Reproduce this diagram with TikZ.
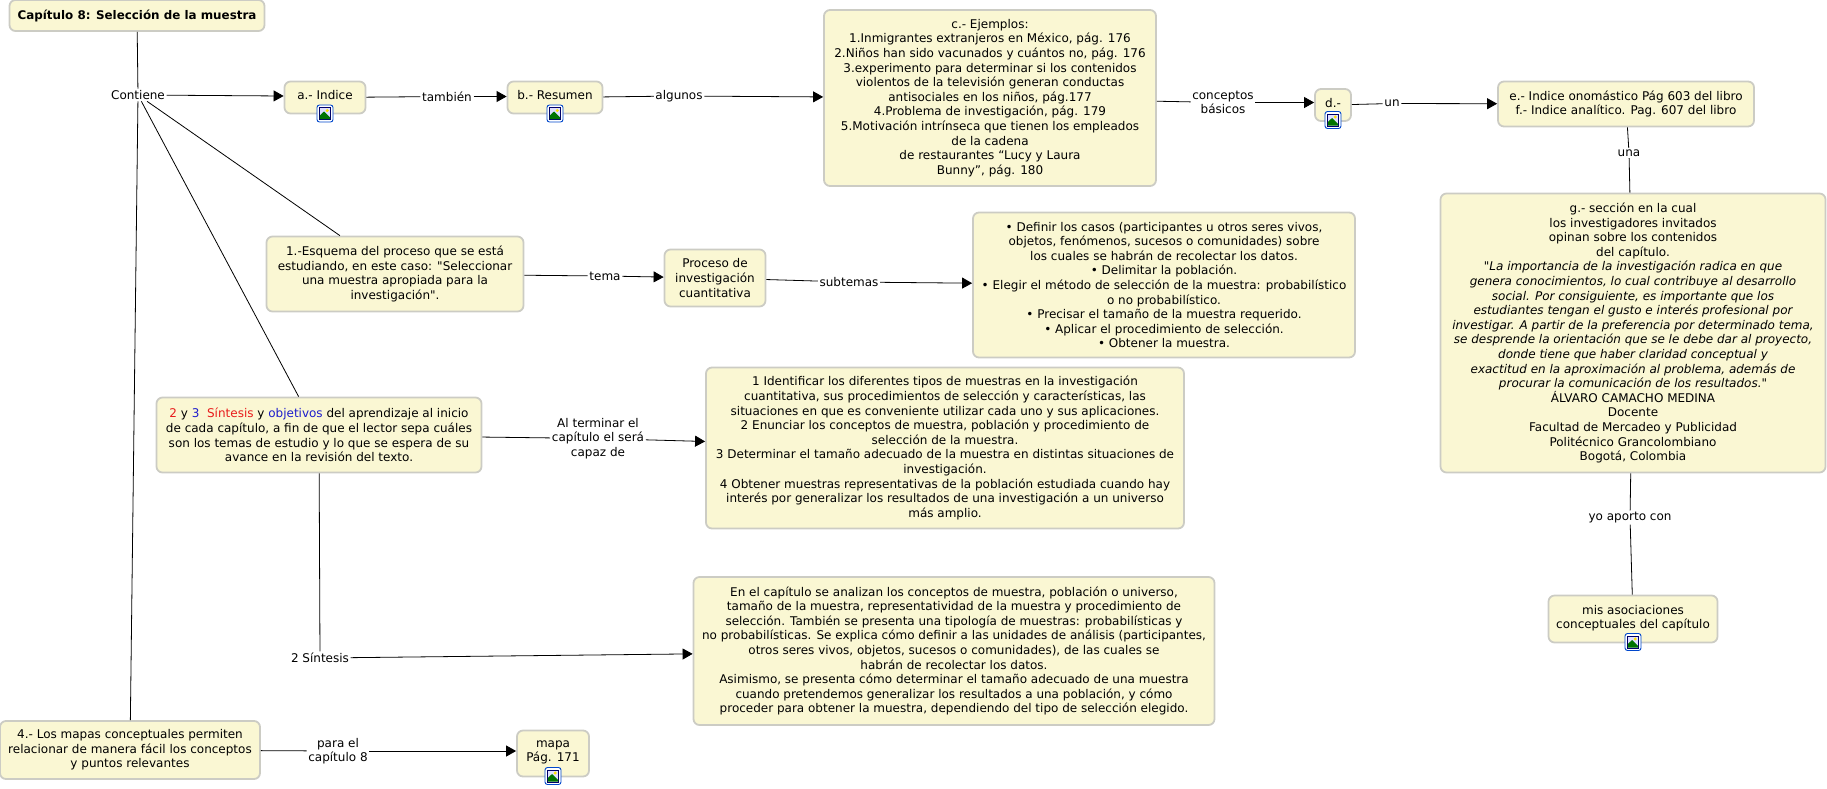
\documentclass[tikz,border=0pt]{standalone}
\usepackage{fontspec}
\usepackage{xcolor}
\usepackage{tikz}
\usetikzlibrary{arrows.meta,positioning,calc}
\setmainfont{DejaVu Sans}[Ligatures=TeXOff]
\definecolor{boxfill}{HTML}{FAF7D3}
\definecolor{boxline}{HTML}{CCCCC4}
\definecolor{redword}{HTML}{E81C1C}
\definecolor{blueword}{HTML}{1C1CCC}
\tikzset{
  concept/.style={draw=boxline, fill=boxfill, line width=1.8pt, rounded corners=6pt, align=center,
    font=\fontsize{12}{14.6}\selectfont, inner sep=0pt},
  linktext/.style={align=center, font=\fontsize{12}{14.6}\selectfont, inner sep=1.5pt},
  plainline/.style={black, line width=0.8pt},
  arrowline/.style={plainline, -{Triangle[length=10pt,width=11pt]}},
  pics/imgicon/.style={code={
    \draw[blue!65!cyan!80!black, fill=white, line width=0.9pt, rounded corners=2.5pt] (-8,-8.5) rectangle (8,8.5);
    \draw[blue!40!black, fill=blue!12, line width=0.8pt] (-5.5,-6) rectangle (5.5,6);
    \fill[green!45!black] (-5.1,5.6) -- (-5.1,2) -- (-1,-2) -- (5.1,4) -- (5.1,5.6) -- cycle;
    \fill[yellow!85!orange] (2.2,-3) circle (1.7);
  }}
}
\begin{document}
\begin{tikzpicture}[x=1pt,y=-1pt]
  \useasboundingbox (0,0) rectangle (1827,788);

  % Left column
  \node[concept, minimum width=255pt, minimum height=31pt, font=\fontsize{11.9}{14.6}\selectfont\bfseries] (capitulo) at (137,15.5) {Capítulo 8: Selección de la muestra};
  \node[linktext] (contiene) at (138,95) {Contiene};
  \node[concept, minimum width=260pt, minimum height=58pt] (mapas) at (130,750) {4.- Los mapas conceptuales permiten\\relacionar de manera fácil los conceptos\\y puntos relevantes};
  \node[linktext] (paracap) at (338,751) {para el\\capítulo 8};
  \node[concept, minimum width=72pt, minimum height=46pt, text depth=5pt] (mapa) at (553,753.5) {mapa\\Pág. 171};
  \pic at (553,776) {imgicon};

  % Top row
  \node[concept, minimum width=81pt, minimum height=32pt, text depth=5pt] (indice) at (325,97.5) {a.- Indice};
  \pic at (325,113.5) {imgicon};
  \node[linktext] (tambien) at (447,96.5) {también};
  \node[concept, minimum width=95pt, minimum height=32pt, text depth=5pt] (resumen) at (555,97.5) {b.- Resumen};
  \pic at (555,113.5) {imgicon};
  \node[linktext] (algunos) at (679,96) {algunos};
  \node[concept, minimum width=332pt, minimum height=176pt] (ejemplos) at (990,98) {c.- Ejemplos:\\1.Inmigrantes extranjeros en México, pág. 176\\2.Niños han sido vacunados y cuántos no, pág. 176\\3.experimento para determinar si los contenidos\\violentos de la televisión generan conductas\\antisociales en los niños, pág.177\\4.Problema de investigación, pág. 179\\5.Motivación intrínseca que tienen los empleados\\de la cadena\\de restaurantes “Lucy y Laura\\Bunny”, pág. 180};
  \node[linktext] (conceptos) at (1223,102.5) {conceptos\\básicos};
  \node[concept, minimum width=36pt, minimum height=32pt, text depth=5pt] (dd) at (1333,105) {d.-};
  \pic at (1333,120) {imgicon};
  \node[linktext] (un) at (1392,103.5) {un};
  \node[concept, minimum width=256pt, minimum height=45pt] (indices) at (1626,104) {e.- Indice onomástico Pág 603 del libro\\f.- Indice analítico. Pag. 607 del libro};

  % Right column
  \node[linktext] (una) at (1629,153) {una};
  \node[concept, minimum width=385pt, minimum height=279pt] (seccion) at (1633,333) {g.- sección en la cual\\los investigadores invitados\\opinan sobre los contenidos\\del capítulo.\\\itshape "La importancia de la investigación radica en que\\\itshape genera conocimientos, lo cual contribuye al desarrollo\\\itshape social. Por consiguiente, es importante que los\\\itshape estudiantes tengan el gusto e interés profesional por\\\itshape investigar. A partir de la preferencia por determinado tema,\\\itshape se desprende la orientación que se le debe dar al proyecto,\\\itshape donde tiene que haber claridad conceptual y\\\itshape exactitud en la aproximación al problema, además de\\\itshape procurar la comunicación de los resultados."\\ÁLVARO CAMACHO MEDINA\\Docente\\Facultad de Mercadeo y Publicidad\\Politécnico Grancolombiano\\Bogotá, Colombia};
  \node[linktext] (aporto) at (1630,517.5) {yo aporto con};
  \node[concept, minimum width=169pt, minimum height=47pt, text depth=4pt] (asociaciones) at (1633,619) {mis asociaciones\\conceptuales del capítulo};
  \pic at (1633,642) {imgicon};

  % Middle rows
  \node[concept, minimum width=257pt, minimum height=75pt] (esquema) at (395,274) {1.-Esquema del proceso que se está\\estudiando, en este caso: "Seleccionar\\una muestra apropiada para la\\investigación".};
  \node[linktext] (tema) at (605,276) {tema};
  \node[concept, minimum width=101pt, minimum height=57pt] (proceso) at (715,278) {Proceso de\\investigación\\cuantitativa};
  \node[linktext] (subtemas) at (849,282) {subtemas};
  \node[concept, minimum width=382pt, minimum height=145pt] (casos) at (1164,285) {• Definir los casos (participantes u otros seres vivos,\\objetos, fenómenos, sucesos o comunidades) sobre\\los cuales se habrán de recolectar los datos.\\• Delimitar la población.\\• Elegir el método de selección de la muestra: probabilístico\\o no probabilístico.\\• Precisar el tamaño de la muestra requerido.\\• Aplicar el procedimiento de selección.\\• Obtener la muestra.};
  \node[concept, minimum width=325pt, minimum height=75pt] (objetivos) at (319,435) {{\color{redword}2} y {\color{blueword}3}\ \ {\color{redword}Síntesis} y {\color{blueword}objetivos} del aprendizaje al inicio\\de cada capítulo, a fin de que el lector sepa cuáles\\son los temas de estudio y lo que se espera de su\\avance en la revisión del texto.};
  \node[linktext] (alterminar) at (598,438.5) {Al terminar el\\capítulo el será\\capaz de};
  \node[concept, minimum width=478pt, minimum height=161pt] (identificar) at (945,448) {1 Identificar los diferentes tipos de muestras en la investigación\\cuantitativa, sus procedimientos de selección y características, las\\situaciones en que es conveniente utilizar cada uno y sus aplicaciones.\\2 Enunciar los conceptos de muestra, población y procedimiento de\\selección de la muestra.\\3 Determinar el tamaño adecuado de la muestra en distintas situaciones de\\investigación.\\4 Obtener muestras representativas de la población estudiada cuando hay\\interés por generalizar los resultados de una investigación a un universo\\más amplio.};
  \node[linktext] (sintesis) at (320,658) {2 Síntesis};
  \node[concept, minimum width=521pt, minimum height=148pt] (analizan) at (954,651) {En el capítulo se analizan los conceptos de muestra, población o universo,\\tamaño de la muestra, representatividad de la muestra y procedimiento de\\selección. También se presenta una tipología de muestras: probabilísticas y\\no probabilísticas. Se explica cómo definir a las unidades de análisis (participantes,\\otros seres vivos, objetos, sucesos o comunidades), de las cuales se\\habrán de recolectar los datos.\\Asimismo, se presenta cómo determinar el tamaño adecuado de una muestra\\cuando pretendemos generalizar los resultados a una población, y cómo\\proceder para obtener la muestra, dependiendo del tipo de selección elegido.};

  % Connectors
  \draw[plainline] (capitulo) -- (contiene);
  \draw[plainline] (contiene) -- (mapas);
  \draw[plainline] (contiene) -- (esquema);
  \draw[plainline] (contiene) -- (objetivos);
  \draw[arrowline] (contiene) -- ([yshift=1.5pt]indice.west);
  \draw[plainline] (indice) -- (tambien);
  \draw[arrowline] (tambien) -- ([yshift=1pt]resumen.west);
  \draw[plainline] (resumen) -- (algunos);
  \draw[arrowline] (algunos) -- (ejemplos);
  \draw[plainline] (ejemplos) -- (conceptos);
  \draw[arrowline] (conceptos) -- ([yshift=2.5pt]dd.west);
  \draw[plainline] (dd) -- (un);
  \draw[arrowline] (un) -- (indices);
  \draw[plainline] (indices) -- (una);
  \draw[plainline] (una) -- (seccion);
  \draw[plainline] (seccion) -- (aporto);
  \draw[plainline] (aporto) -- (asociaciones);
  \draw[plainline] (esquema) -- (tema);
  \draw[arrowline] (tema) -- (proceso);
  \draw[plainline] (proceso) -- (subtemas);
  \draw[arrowline] (subtemas) -- (casos);
  \draw[plainline] (objetivos) -- (alterminar);
  \draw[arrowline] (alterminar) -- (identificar);
  \draw[plainline] (objetivos) -- (sintesis);
  \draw[arrowline] (sintesis) -- (analizan);
  \draw[plainline] (mapas) -- (paracap);
  \draw[arrowline] (paracap) -- ([yshift=2.5pt]mapa.west);
\end{tikzpicture}
\end{document}
